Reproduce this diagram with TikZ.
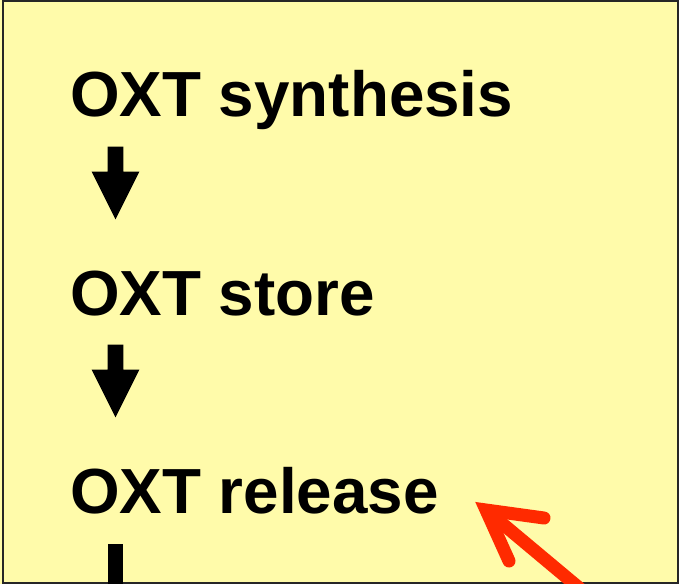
\documentclass[tikz,border=0pt]{standalone}
\usepackage{fontspec}
\setmainfont{Liberation Sans}
\definecolor{bgyellow}{HTML}{FFFBAA}
\definecolor{arrred}{HTML}{FF2A00}
\begin{document}
\begin{tikzpicture}[x=1bp,y=-1bp,
  lbl/.style={anchor=base west,inner sep=0pt,font=\fontsize{64}{70}\bfseries\selectfont},
  blockarrow/.style={fill=black,draw=none}]
\useasboundingbox (0,0) rectangle (679,584);
\fill[bgyellow] (0,0) rectangle (679,584);
\draw[line width=2.5bp,draw=black!85] (3,1.2) rectangle (678.5,582.8);
\node[lbl] (syn) at (70,117) {OXT synthesis};
\node[lbl] (sto) at (70,315) {OXT store};
\node[lbl] (rel) at (70,513) {OXT release};
\foreach \dy in {0,198}{
  \fill[blockarrow,yshift=-\dy bp] (107.7,146.7) -- (123.3,146.7) -- (123.3,171.7) -- (139.3,171.7)
     -- (115.5,219.3) -- (91.7,171.7) -- (107.7,171.7) -- cycle;
}
\fill[blockarrow] (107.7,544) rectangle (123.3,584);
\coordinate (tip) at (486,510);
\coordinate (b1) at (544,518);
\coordinate (b2) at (509,561);
\coordinate (tail) at (590,597);
\draw[arrred,line width=13bp,line cap=round,line join=miter] (b1) -- (tip) -- (b2);
\draw[arrred,line width=13bp] (tip) -- (tail);
\end{tikzpicture}
\end{document}
